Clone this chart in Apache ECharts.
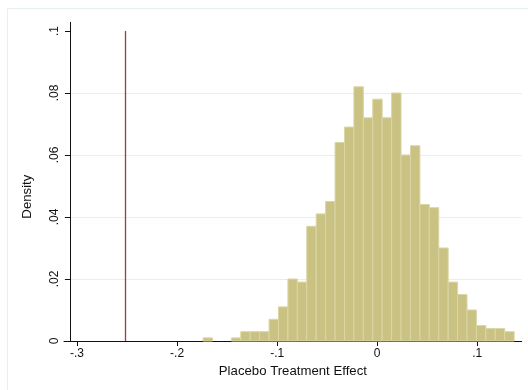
<!DOCTYPE html>
<html>
<head>
<meta charset="utf-8">
<script src="https://cdn.jsdelivr.net/npm/echarts@6/dist/echarts.min.js"></script>
<style>
  html, body { margin: 0; padding: 0; background: #fff; }
  #chart { width: 528px; height: 390px; }
</style>
</head>
<body>
<div id="chart"></div>
<script>
// placebo histogram: bins of equal width, heights
var binStart = -0.1740;
var binWidth = 0.00942;
var binHeights = [
  0.001, 0, 0, 0.001, 0.003, 0.003, 0.003, 0.007, 0.011, 0.020,
  0.019, 0.037, 0.041, 0.045, 0.064, 0.069, 0.082, 0.072, 0.078, 0.072,
  0.080, 0.060, 0.063, 0.044, 0.043, 0.030, 0.019, 0.015, 0.010, 0.005,
  0.004, 0.004, 0.003
];
var trueEffect = -0.252;
var xTicks = [-0.3, -0.2, -0.1, 0, 0.1];
var xLabels = ['-.3', '-.2', '-.1', '0', '.1'];
var yTicks = [0, 0.02, 0.04, 0.06, 0.08, 0.1];
var yLabels = ['0', '.02', '.04', '.06', '.08', '.1'];

var bins = binHeights.map(function (h, i) {
  var lo = binStart + binWidth * i;
  return [lo, lo + binWidth, h];
});

function lookup(ticks, labels) {
  return function (v) {
    for (var i = 0; i < ticks.length; i++) {
      if (Math.abs(ticks[i] - v) < 1e-9) return labels[i];
    }
    return '';
  };
}

var chart = echarts.init(document.getElementById('chart'));
var font = 'Liberation Sans, Arial, sans-serif';

chart.setOption({
  backgroundColor: '#fff',
  animation: false,
  graphic: [{
    type: 'rect',
    shape: { x: 7.5, y: 8.5, width: 700, height: 500 },
    style: { fill: null, stroke: '#E6EEF0', lineWidth: 1 },
    z: -10
  }],
  grid: { left: 64, right: 6.3, top: 22.3, bottom: 49 },
  xAxis: {
    type: 'value',
    min: -0.313,
    max: 0.1444,
    name: 'Placebo Treatment Effect',
    nameLocation: 'middle',
    nameGap: 20,
    nameTextStyle: { color: '#111', fontFamily: font, fontSize: 13.2 },
    axisLine: { show: true, onZero: false, lineStyle: { color: '#111', width: 1 } },
    axisTick: { show: true, length: 5, customValues: xTicks, lineStyle: { color: '#111' } },
    axisLabel: {
      customValues: xTicks,
      formatter: lookup(xTicks, xLabels),
      color: '#111', fontFamily: font, fontSize: 12, margin: 7
    },
    splitLine: { show: false }
  },
  yAxis: {
    type: 'value',
    min: 0,
    max: 0.1028,
    interval: 0.02,
    offset: -6,
    name: 'Density',
    nameLocation: 'middle',
    nameGap: 36,
    nameRotate: 90,
    nameTextStyle: { color: '#111', fontFamily: font, fontSize: 13.2, padding: [0, 30, 0, 0] },
    axisLine: { show: true, onZero: false, lineStyle: { color: '#111', width: 1 } },
    axisTick: { show: true, length: 5, customValues: yTicks, lineStyle: { color: '#111' } },
    axisLabel: {
      customValues: yTicks,
      formatter: lookup(yTicks, yLabels),
      rotate: 90,
      color: '#111', fontFamily: font, fontSize: 12, margin: 9
    },
    splitLine: { show: true, showMaxLine: false, lineStyle: { color: '#E6EEF0', width: 1 } }
  },
  series: [{
    type: 'custom',
    data: bins,
    encode: { x: [0, 1], y: 2 },
    renderItem: function (params, api) {
      var h = api.value(2);
      if (!h) return null;
      var p0 = api.coord([api.value(0), h]);
      var p1 = api.coord([api.value(1), 0]);
      return {
        type: 'rect',
        shape: { x: p0[0], y: p0[1], width: p1[0] - p0[0], height: p1[1] - p0[1] },
        style: { fill: '#C9C283', stroke: '#DAD6A4', lineWidth: 1 }
      };
    },
    markLine: {
      silent: true,
      symbol: 'none',
      label: { show: false },
      lineStyle: { color: '#9C3C44', width: 1.3, type: 'solid' },
      data: [[{ coord: [trueEffect, 0] }, { coord: [trueEffect, 0.1] }]]
    }
  }]
});
</script>
</body>
</html>
